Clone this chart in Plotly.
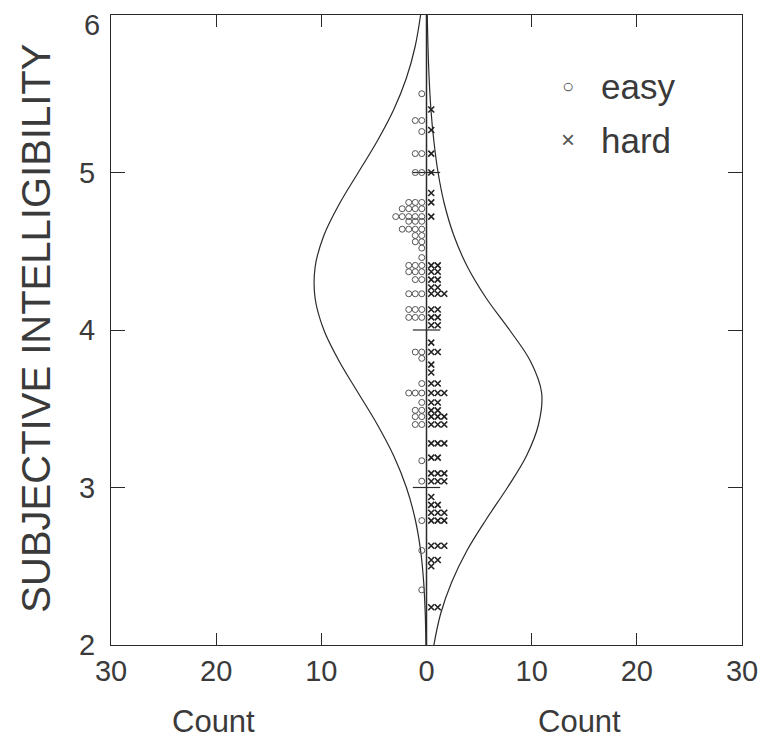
import plotly.graph_objects as go

# ---------------- data ----------------
# easy (left side, circles): intelligibility value and number of stimuli at that value
easy_y = [5.50, 5.33, 5.26, 5.12, 5.00, 4.81, 4.77, 4.72, 4.69, 4.64, 4.60, 4.56, 4.52,
          4.46, 4.41, 4.37, 4.32, 4.23, 4.13, 4.08, 3.86, 3.82, 3.66, 3.60, 3.54, 3.49,
          3.45, 3.40, 3.17, 3.04, 2.79, 2.60, 2.35]
easy_n = [1, 2, 1, 2, 2, 3, 4, 5, 3, 4, 2, 2, 1,
          1, 3, 3, 2, 3, 3, 3, 2, 1, 1, 3, 1, 2,
          2, 2, 1, 1, 1, 1, 1]

# hard (right side, crosses)
hard_y = [5.40, 5.27, 5.12, 5.00, 4.87, 4.81, 4.72, 4.41, 4.37, 4.32, 4.27, 4.23, 4.13,
          4.08, 4.03, 3.92, 3.86, 3.78, 3.73, 3.66, 3.60, 3.54, 3.49, 3.45, 3.40, 3.28,
          3.19, 3.09, 3.04, 2.94, 2.89, 2.84, 2.79, 2.63, 2.54, 2.50, 2.24]
hard_n = [1, 1, 1, 1, 1, 1, 1, 2, 2, 2, 2, 3, 2,
          2, 2, 1, 2, 1, 1, 2, 3, 2, 2, 3, 3, 3,
          2, 3, 3, 1, 2, 3, 3, 3, 2, 1, 2]

# fitted normal curves (count at each intelligibility value)
curve_y = [2.0, 2.2, 2.4, 2.6, 2.8, 3.0, 3.2, 3.4, 3.6, 3.8, 4.0, 4.2, 4.4, 4.6, 4.8,
           5.0, 5.2, 5.4, 5.6, 5.8, 6.0]
easy_curve = [0.05, 0.12, 0.27, 0.56, 1.08, 1.91, 3.11, 4.68, 6.49, 8.29, 9.76, 10.59,
              10.59, 9.76, 8.29, 6.49, 4.68, 3.11, 1.91, 1.08, 0.56]
hard_curve = [0.7, 1.35, 2.4, 3.85, 5.7, 7.7, 9.5, 10.65, 10.95, 9.9, 7.9, 5.7,
              3.9, 2.6, 1.7, 1.1, 0.7, 0.42, 0.25, 0.14, 0.07]

x_tickvals = [-30, -20, -10, 0, 10, 20, 30]
x_ticktext = ["30", "20", "10", "0", "10", "20", "30"]
y_tickvals = [2, 3, 4, 5, 6]
y_ticktext = ["2", "3", "4", "5", "6"]

# ---------------- build ----------------
STEP = 0.62
OFF = 0.45


def stack(ys, ns, sign):
    xs, yy = [], []
    for y, n in zip(ys, ns):
        for i in range(n):
            xs.append(sign * (OFF + STEP * i))
            yy.append(y)
    return xs, yy


ex, ey = stack(easy_y, easy_n, -1)
hx, hy = stack(hard_y, hard_n, 1)

ink = "#2a2a2a"
txt = "#3a3a3a"
fig = go.Figure()

fig.add_trace(go.Scatter(x=[-v for v in easy_curve], y=curve_y, mode="lines",
                         line=dict(color=ink, width=1.2, shape="spline"),
                         showlegend=False, hoverinfo="skip"))
fig.add_trace(go.Scatter(x=hard_curve, y=curve_y, mode="lines",
                         line=dict(color=ink, width=1.2, shape="spline"),
                         showlegend=False, hoverinfo="skip"))

fig.add_trace(go.Scatter(x=ex, y=ey, mode="markers", name="easy",
                         marker=dict(symbol="circle-open", size=6, color="#555",
                                     line=dict(width=1, color="#555")),
                         showlegend=False))
fig.add_trace(go.Scatter(x=hx, y=hy, mode="markers", name="hard",
                         marker=dict(symbol="x-thin-open", size=6, color="#222",
                                     line=dict(width=1.6, color="#222")),
                         showlegend=False))

# central zero axis with ticks
fig.add_shape(type="line", x0=0, x1=0, y0=2, y1=6, xref="x", yref="y",
              line=dict(color=ink, width=1.5), layer="below")
for yv in [3, 4, 5]:
    fig.add_shape(type="line", x0=-1.3, x1=1.3, y0=yv, y1=yv, xref="x", yref="y",
                  line=dict(color=ink, width=1.2), layer="below")

font_main = "Liberation Sans, Arial, sans-serif"

fig.update_layout(
    width=770, height=747,
    margin=dict(l=103, r=36, t=7, b=110),
    paper_bgcolor="white", plot_bgcolor="white",
    font=dict(family=font_main, color=txt),
    xaxis=dict(range=[-30, 30], tickvals=x_tickvals, ticktext=x_ticktext,
               ticks="inside", ticklen=12, tickcolor=ink, mirror="ticks",
               showline=True, linecolor=ink, linewidth=1, showgrid=False,
               zeroline=False, automargin=False, ticklabelstandoff=0,
               ticklabeloverflow="allow",
               tickfont=dict(size=29, color=txt)),
    yaxis=dict(range=[2, 6], tickvals=y_tickvals[:-1], ticktext=y_ticktext[:-1],
               ticks="inside", ticklen=14, tickcolor=ink, mirror="ticks",
               showline=True, linecolor=ink, linewidth=1, showgrid=False,
               zeroline=False, automargin=False, ticklabelstandoff=9,
               ticklabeloverflow="allow",
               tickfont=dict(size=29, color=txt)),
)

# top tick label, placed just inside the page top edge
fig.add_annotation(text=y_ticktext[-1], x=-0.016, y=1.0111, xref="paper", yref="paper",
                   showarrow=False, xanchor="right", yanchor="top", borderpad=0,
                   font=dict(size=29, color=txt))

# y axis title (rotated text)
fig.add_annotation(text="SUBJECTIVE INTELLIGIBILITY", x=-0.118, y=0.503,
                   xref="paper", yref="paper", showarrow=False, textangle=-90,
                   xanchor="center", yanchor="middle",
                   font=dict(size=40, color=txt))

# x axis captions
for xp in [0.162, 0.743]:
    fig.add_annotation(text="Count", x=xp, y=-0.122, xref="paper", yref="paper",
                       showarrow=False, xanchor="center", yanchor="middle",
                       font=dict(size=31, color=txt))

# legend (drawn as text)
fig.add_annotation(text="○", x=0.724, y=0.888, xref="paper", yref="paper",
                   showarrow=False, xanchor="center", yanchor="middle",
                   font=dict(size=20, color="#555"))
fig.add_annotation(text="easy", x=0.773, y=0.886, xref="paper", yref="paper",
                   showarrow=False, xanchor="left", yanchor="middle",
                   font=dict(size=35, color=txt))
fig.add_annotation(text="×", x=0.724, y=0.802, xref="paper", yref="paper",
                   showarrow=False, xanchor="center", yanchor="middle",
                   font=dict(size=24, color="#555"))
fig.add_annotation(text="hard", x=0.773, y=0.800, xref="paper", yref="paper",
                   showarrow=False, xanchor="left", yanchor="middle",
                   font=dict(size=35, color=txt))

fig.write_html("out.html")
